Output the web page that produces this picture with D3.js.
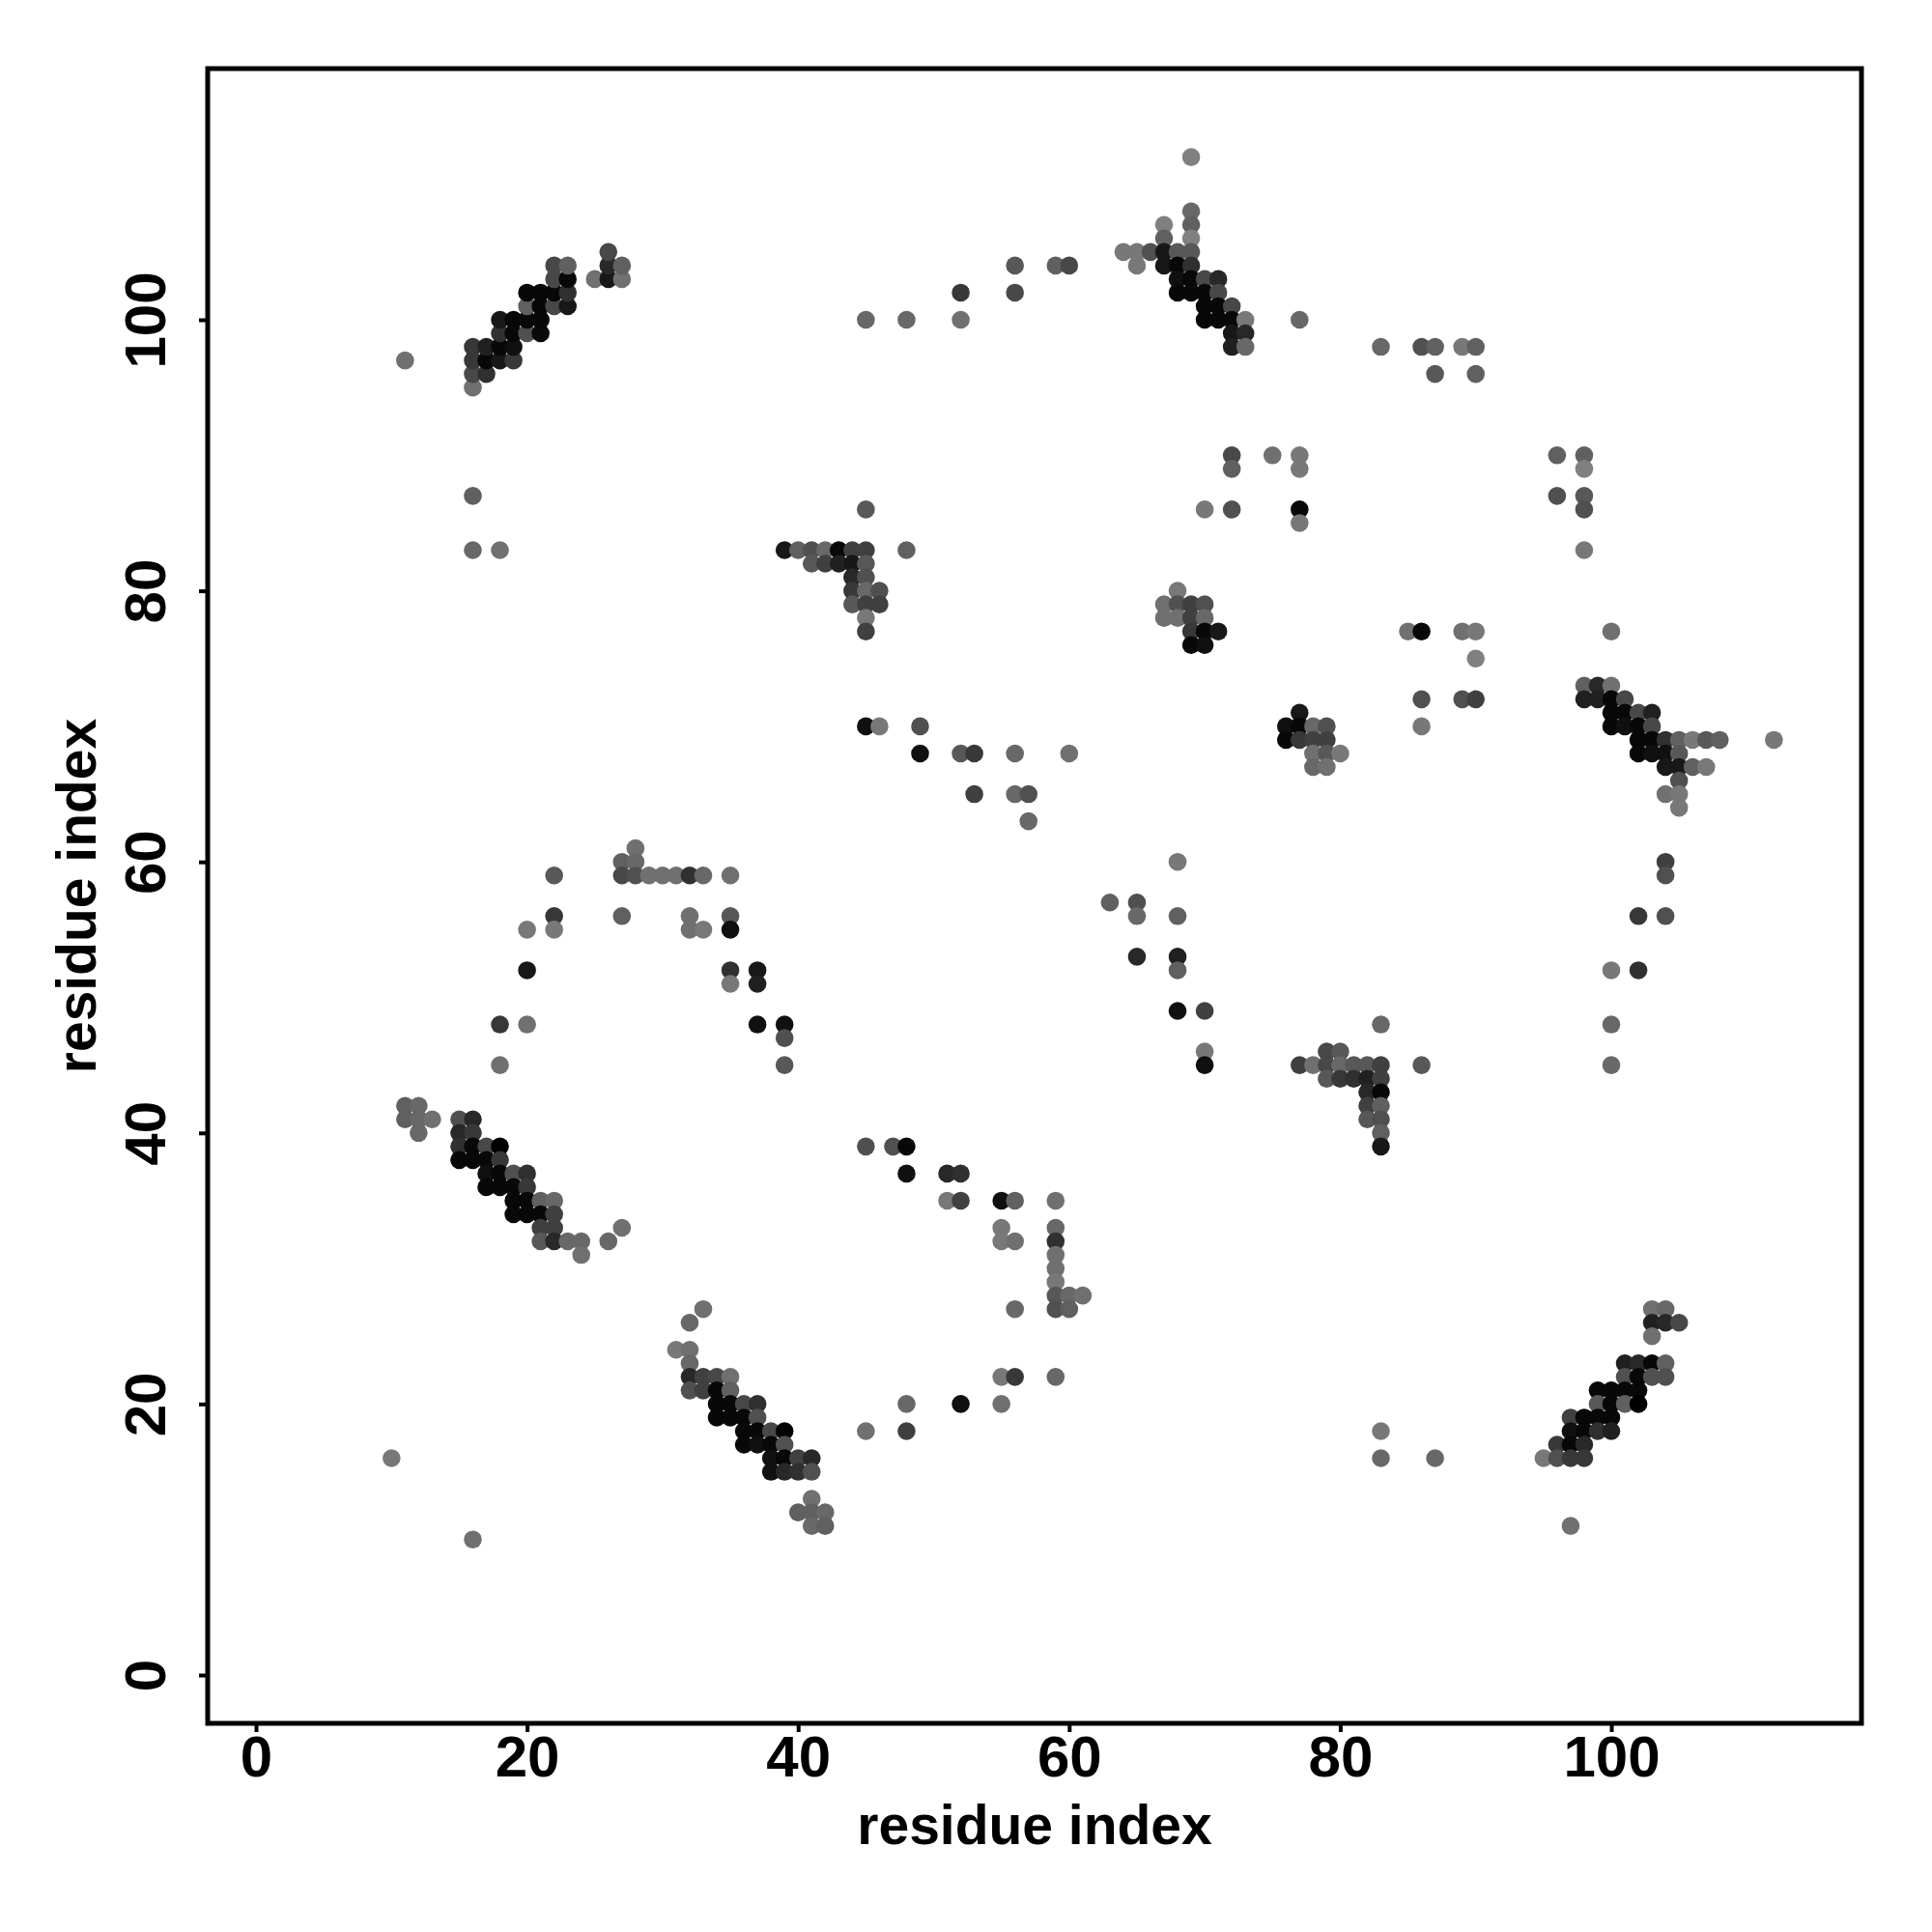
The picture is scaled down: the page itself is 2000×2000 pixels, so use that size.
<!DOCTYPE html>
<html>
<head>
<meta charset="utf-8">
<script src="https://d3js.org/d3.v7.min.js"></script>
<style>
html,body{margin:0;padding:0;background:#fff}
svg{display:block}
text{font-family:"Liberation Sans",Arial,sans-serif;font-weight:700;fill:#000}
</style>
</head>
<body>
<svg id="chart" width="2000" height="2000"></svg>
<script>
// Each contact: [residue i, residue j, grey level]
const helixTopLeft = [[16,95,0x70],[16,96,0x48],[17,96,0x30],[16,97,0x38],[17,97,0x08],[18,97,0x18],[19,97,0x38],[16,98,0x38],[17,98,0x20],[18,98,0x08],[19,98,0x10],[18,99,0x30],[19,99,0x08],[20,99,0x50],[21,99,0x0a],[18,100,0x18],[19,100,0x08],[20,100,0x08],[21,100,0x08],[20,101,0x60],[21,101,0x08],[22,101,0x48],[23,101,0x18],[20,102,0x08],[21,102,0x08],[22,102,0x08],[23,102,0x30],[22,103,0x48],[23,103,0x08],[25,103,0x70],[26,103,0x18],[27,103,0x70],[22,104,0x48],[23,104,0x60],[26,104,0x28],[27,104,0x60],[26,105,0x48]];
const helixTopMiddle = [[69,112,0x80],[69,108,0x68],[67,107,0x80],[69,107,0x60],[67,106,0x60],[69,106,0x80],[64,105,0x78],[65,105,0x78],[66,105,0x50],[67,105,0x18],[68,105,0x58],[69,105,0x58],[65,104,0x78],[67,104,0x18],[68,104,0x08],[69,104,0x30],[68,103,0x10],[69,103,0x08],[70,103,0x48],[71,103,0x28],[68,102,0x08],[69,102,0x08],[70,102,0x08],[71,102,0x48],[70,101,0x08],[71,101,0x08],[72,101,0x48],[70,100,0x08],[71,100,0x08],[72,100,0x08],[73,100,0x78],[77,100,0x68],[72,99,0x18],[73,99,0x28],[72,98,0x20],[73,98,0x68]];
const cornerUpperLeft = [[45,86,0x58],[39,83,0x18],[40,83,0x60],[41,83,0x50],[42,83,0x68],[43,83,0x08],[44,83,0x40],[45,83,0x40],[48,83,0x60],[41,82,0x58],[42,82,0x40],[43,82,0x20],[44,82,0x18],[45,82,0x58],[44,81,0x28],[45,81,0x50],[44,80,0x38],[45,80,0x68],[46,80,0x50],[44,79,0x58],[45,79,0x40],[46,79,0x40],[45,78,0x78],[45,77,0x40]];
const clusterNearCentre = [[68,80,0x78],[67,79,0x70],[68,79,0x50],[69,79,0x40],[70,79,0x50],[67,78,0x70],[68,78,0x70],[69,78,0x40],[70,78,0x68],[69,77,0x38],[70,77,0x08],[71,77,0x18],[69,76,0x08],[70,76,0x10],[77,71,0x18],[76,70,0x10],[77,70,0x08],[78,70,0x68],[79,70,0x50],[76,69,0x08],[77,69,0x38],[78,69,0x40],[79,69,0x40],[78,68,0x70],[79,68,0x58],[80,68,0x78],[78,67,0x68],[79,67,0x70]];
const strandRight = [[98,73,0x60],[99,73,0x28],[100,73,0x70],[98,72,0x20],[99,72,0x20],[100,72,0x08],[101,72,0x48],[100,71,0x08],[101,71,0x08],[102,71,0x48],[103,71,0x20],[100,70,0x08],[101,70,0x10],[102,70,0x08],[103,70,0x48],[102,69,0x08],[103,69,0x08],[104,69,0x30],[105,69,0x60],[106,69,0x78],[107,69,0x58],[108,69,0x60],[112,69,0x78],[102,68,0x08],[103,68,0x10],[104,68,0x10],[105,68,0x58],[104,67,0x18],[105,67,0x18],[106,67,0x60],[107,67,0x78],[105,66,0x50],[104,65,0x70],[105,65,0x78],[105,64,0x78]];
const strandLeft = [[11,42,0x60],[12,42,0x68],[11,41,0x60],[12,41,0x68],[13,41,0x70],[15,41,0x50],[16,41,0x28],[12,40,0x68],[15,40,0x28],[16,40,0x38],[15,39,0x30],[16,39,0x08],[17,39,0x48],[18,39,0x00],[15,38,0x08],[16,38,0x08],[17,38,0x08],[18,38,0x38],[17,37,0x10],[18,37,0x08],[19,37,0x50],[20,37,0x30],[17,36,0x08],[18,36,0x08],[19,36,0x08],[20,36,0x38],[19,35,0x08],[20,35,0x08],[21,35,0x60],[22,35,0x68],[19,34,0x08],[20,34,0x08],[21,34,0x08],[22,34,0x40],[21,33,0x40],[22,33,0x40],[27,33,0x70],[21,32,0x58],[22,32,0x28],[23,32,0x68],[24,32,0x68],[26,32,0x68],[24,31,0x70]];
const strandLower = [[33,27,0x70],[32,26,0x68],[31,24,0x78],[32,24,0x70],[32,23,0x68],[32,22,0x28],[33,22,0x40],[34,22,0x48],[35,22,0x70],[32,21,0x50],[33,21,0x40],[34,21,0x08],[35,21,0x60],[34,20,0x08],[35,20,0x08],[36,20,0x48],[37,20,0x30],[34,19,0x08],[35,19,0x08],[36,19,0x08],[37,19,0x50],[36,18,0x08],[37,18,0x08],[38,18,0x48],[39,18,0x00],[45,18,0x70],[36,17,0x08],[37,17,0x10],[38,17,0x08],[39,17,0x50],[38,16,0x10],[39,16,0x08],[40,16,0x40],[41,16,0x28],[38,15,0x10],[39,15,0x28],[40,15,0x30],[41,15,0x50],[41,13,0x70],[40,12,0x60],[41,12,0x60],[42,12,0x68],[41,11,0x68],[42,11,0x60]];
const helixBottomRight = [[103,27,0x70],[104,27,0x68],[103,26,0x20],[104,26,0x28],[105,26,0x48],[103,25,0x70],[101,23,0x20],[102,23,0x28],[103,23,0x08],[104,23,0x60],[101,22,0x50],[102,22,0x08],[103,22,0x50],[104,22,0x50],[99,21,0x08],[100,21,0x08],[101,21,0x08],[102,21,0x08],[99,20,0x58],[100,20,0x08],[101,20,0x60],[102,20,0x00],[97,19,0x40],[98,19,0x08],[99,19,0x08],[100,19,0x08],[97,18,0x10],[98,18,0x08],[99,18,0x30],[100,18,0x20],[96,17,0x38],[97,17,0x08],[98,17,0x28],[95,16,0x78],[96,16,0x50],[97,16,0x38],[98,16,0x38]];
const cornerLowerRight = [[83,48,0x68],[79,46,0x48],[80,46,0x58],[77,45,0x40],[78,45,0x70],[79,45,0x48],[80,45,0x68],[81,45,0x58],[82,45,0x58],[83,45,0x40],[86,45,0x58],[79,44,0x58],[80,44,0x38],[81,44,0x30],[82,44,0x20],[83,44,0x40],[82,43,0x28],[83,43,0x08],[82,42,0x40],[83,42,0x60],[82,41,0x58],[83,41,0x50],[83,40,0x60],[83,39,0x18]];
const columnAt59 = [[55,35,0x10],[56,35,0x60],[59,35,0x70],[55,33,0x78],[59,33,0x68],[55,32,0x78],[56,32,0x70],[59,32,0x30],[59,31,0x70],[59,30,0x70],[59,29,0x78],[59,28,0x58],[60,28,0x68],[61,28,0x70],[56,27,0x68],[59,27,0x50],[60,27,0x60]];
const rowAt59 = [[28,61,0x70],[27,60,0x60],[28,60,0x68],[27,59,0x48],[28,59,0x50],[29,59,0x70],[30,59,0x70],[31,59,0x70],[32,59,0x30],[33,59,0x68],[35,59,0x70],[27,56,0x60],[32,56,0x70],[35,56,0x58]];
const sparseUpper = [[11,97,0x70],[16,87,0x60],[16,83,0x68],[18,83,0x70],[45,100,0x68],[48,100,0x68],[52,102,0x38],[52,100,0x70],[56,104,0x58],[56,102,0x48],[59,104,0x60],[60,104,0x48],[83,98,0x68],[86,98,0x50],[87,98,0x60],[87,96,0x58],[89,98,0x78],[90,98,0x60],[90,96,0x60],[72,90,0x48],[72,89,0x60],[75,90,0x70],[77,90,0x78],[77,89,0x78],[70,86,0x78],[72,86,0x50],[77,86,0x08],[77,85,0x78],[96,90,0x60],[98,90,0x60],[98,89,0x80],[96,87,0x50],[98,87,0x58],[98,86,0x50],[98,83,0x78],[85,77,0x70],[86,77,0x08],[89,77,0x70],[90,77,0x78],[90,75,0x80],[86,72,0x50],[89,72,0x50],[90,72,0x40],[86,70,0x78],[100,77,0x70],[45,70,0x10],[46,70,0x78],[49,70,0x50],[49,68,0x10],[52,68,0x58],[53,68,0x38],[56,68,0x68],[60,68,0x70],[53,65,0x40],[56,65,0x68],[57,65,0x50],[57,63,0x68]];
const sparseMiddle = [[104,60,0x40],[104,59,0x50],[102,56,0x38],[104,56,0x50],[100,52,0x78],[102,52,0x30],[100,48,0x68],[100,45,0x68],[63,57,0x60],[65,57,0x50],[65,56,0x68],[68,60,0x78],[68,56,0x60],[65,53,0x28],[68,53,0x20],[68,52,0x60],[68,49,0x10],[70,49,0x40],[70,46,0x78],[70,45,0x10],[22,59,0x58],[22,56,0x38],[22,55,0x78],[20,55,0x78],[20,52,0x18],[18,48,0x38],[20,48,0x70],[18,45,0x70],[32,55,0x70],[33,55,0x78],[35,55,0x10],[35,52,0x30],[37,52,0x18],[35,51,0x78],[37,51,0x20],[37,48,0x10],[39,48,0x10],[39,47,0x50],[39,45,0x58]];
const sparseLower = [[45,39,0x50],[47,39,0x50],[48,39,0x08],[48,37,0x10],[51,37,0x28],[52,37,0x30],[51,35,0x78],[52,35,0x40],[55,22,0x78],[56,22,0x38],[59,22,0x68],[55,20,0x70],[52,20,0x10],[48,20,0x68],[48,18,0x40],[10,16,0x78],[16,10,0x70],[83,18,0x78],[83,16,0x68],[87,16,0x68],[97,11,0x70]];
const tickValues = [0,20,40,60,80,100];
const axisTitle = "residue index";

const contacts = [helixTopLeft,helixTopMiddle,cornerUpperLeft,clusterNearCentre,strandRight,strandLeft,strandLower,helixBottomRight,cornerLowerRight,columnAt59,rowAt59,sparseUpper,sparseMiddle,sparseLower].flat();

const frame = {left:215,right:1927,top:71,bottom:1784};
const unit = 14.03;
const x = d3.scaleLinear().domain([0,100]).range([265,265+100*unit]);
const y = d3.scaleLinear().domain([0,100]).range([1734,1734-100*unit]);
const svg = d3.select("#chart");
svg.append("rect").attr("width",2000).attr("height",2000).attr("fill","#fff");

svg.append("g").selectAll("circle").data(contacts).join("circle")
  .attr("cx",d=>x(d[0])).attr("cy",d=>y(d[1])).attr("r",9.3)
  .attr("fill",d=>d3.rgb(d[2],d[2],d[2]));

svg.append("rect").attr("x",frame.left).attr("y",frame.top)
  .attr("width",frame.right-frame.left).attr("height",frame.bottom-frame.top)
  .attr("fill","none").attr("stroke","#000").attr("stroke-width",5);

const ax = svg.append("g").attr("transform",`translate(0,${frame.bottom})`)
  .call(d3.axisBottom(x).tickValues(tickValues).tickFormat(d3.format("d")).tickSize(9).tickPadding(0));
const ay = svg.append("g").attr("transform",`translate(${frame.left},0)`)
  .call(d3.axisLeft(y).tickValues(tickValues).tickFormat(d3.format("d")).tickSize(9).tickPadding(0));
[ax,ay].forEach(a=>{
  a.select(".domain").remove();
  a.selectAll("line").attr("stroke","#000").attr("stroke-width",4);
  a.selectAll("text").style("font-size","60px").attr("fill","#000");
});
ax.selectAll("text").attr("dy",null).attr("y",55);
ay.selectAll("text").attr("dy",null).attr("x",null).attr("dx",null)
  .attr("text-anchor","middle")
  .attr("transform",d=>`translate(-44,${y(d)-y(d)}) rotate(-90)`);

svg.append("text").attr("x",(frame.left+frame.right)/2).attr("y",1909)
  .attr("text-anchor","middle").style("font-size","57px").text(axisTitle);
svg.append("text").attr("transform",`translate(99,${(frame.top+frame.bottom)/2}) rotate(-90)`)
  .attr("text-anchor","middle").style("font-size","57px").text(axisTitle);
</script>
</body>
</html>
